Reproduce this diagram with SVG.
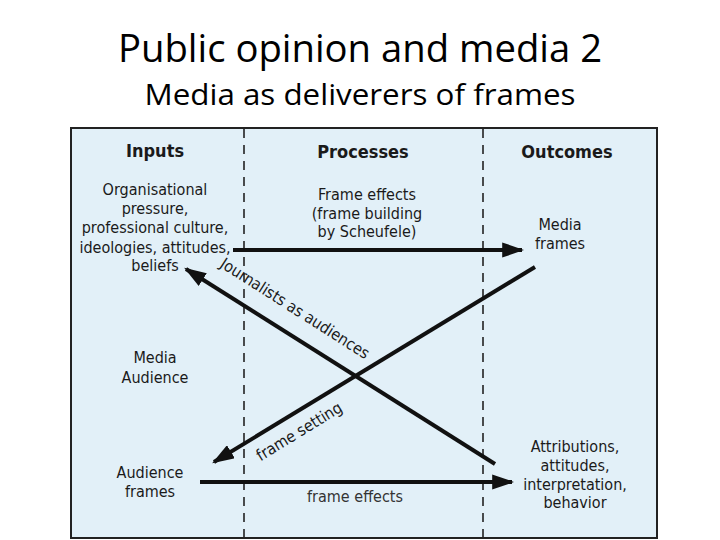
<svg xmlns="http://www.w3.org/2000/svg" width="720" height="540" viewBox="0 0 720 540">
<defs>
<style>
.t{font-family:"DejaVu Sans Condensed","Liberation Sans",sans-serif;fill:#1a1a1a;text-anchor:middle;font-size:16px}
.h{font-weight:bold;font-size:18px}
.title{font-family:"Open Sans","Noto Sans",sans-serif;fill:#000;text-anchor:middle}
.c{stroke:#111;stroke-width:4;fill:none}
.d{stroke:#222;stroke-width:1.6;stroke-dasharray:9,7}
</style>
<marker id="ah" viewBox="0 0 10 10" refX="9" refY="5" markerWidth="5.5" markerHeight="3.8" markerUnits="strokeWidth" orient="auto" preserveAspectRatio="none">
<path d="M0,0 L10,5 L0,10 Z" fill="#111"/>
</marker>
</defs>
<rect width="720" height="540" fill="#fff"/>
<text class="title" x="360" y="62" font-size="38" textLength="484" lengthAdjust="spacingAndGlyphs">Public opinion and media 2</text>
<text class="title" x="360" y="105" font-size="30" textLength="431" lengthAdjust="spacingAndGlyphs">Media as deliverers of frames</text>
<g id="frame">
<rect x="71" y="128" width="586" height="410" fill="#e2f0f8" stroke="#222" stroke-width="2"/>
<line class="d" x1="244" y1="129" x2="244" y2="537"/>
<line class="d" x1="483" y1="129" x2="483" y2="537"/>
</g>
<g id="headers">
<text class="t h" x="155" y="157">Inputs</text>
<text class="t h" x="363" y="158">Processes</text>
<text class="t h" x="567" y="158">Outcomes</text>
</g>
<g id="inputs-top">
<text class="t" x="155" y="195">Organisational</text>
<text class="t" x="155" y="214">pressure,</text>
<text class="t" x="155" y="233">professional culture,</text>
<text class="t" x="155" y="253">ideologies, attitudes,</text>
<text class="t" x="155" y="271">beliefs</text>
</g>
<g id="frame-effects-top">
<text class="t" x="367" y="200">Frame effects</text>
<text class="t" x="367" y="219">(frame building</text>
<text class="t" x="367" y="237">by Scheufele)</text>
</g>
<g id="media-frames">
<text class="t" x="560" y="230">Media</text>
<text class="t" x="560" y="249">frames</text>
</g>
<g id="media-audience">
<text class="t" x="155" y="363">Media</text>
<text class="t" x="155" y="383">Audience</text>
</g>
<g id="audience-frames">
<text class="t" x="150" y="478">Audience</text>
<text class="t" x="150" y="497">frames</text>
</g>
<g id="attributions">
<text class="t" x="575" y="452">Attributions,</text>
<text class="t" x="575" y="471">attitudes,</text>
<text class="t" x="575" y="490">interpretation,</text>
<text class="t" x="575" y="508">behavior</text>
</g>
<g id="connectors">
<line class="c" x1="233" y1="250" x2="522" y2="250" marker-end="url(#ah)"/>
<line class="c" x1="495" y1="464" x2="186" y2="269" marker-end="url(#ah)"/>
<line class="c" x1="535" y1="267" x2="214" y2="462" marker-end="url(#ah)"/>
<line class="c" x1="200" y1="482" x2="512" y2="482" marker-end="url(#ah)"/>
<text class="t" x="355" y="502" style="fill:#333">frame effects</text>
<text class="t" transform="translate(292,313) rotate(32.5)">Journalists as audiences</text>
<text class="t" transform="translate(302,436) rotate(-31.5)">frame setting</text>
</g>
</svg>
